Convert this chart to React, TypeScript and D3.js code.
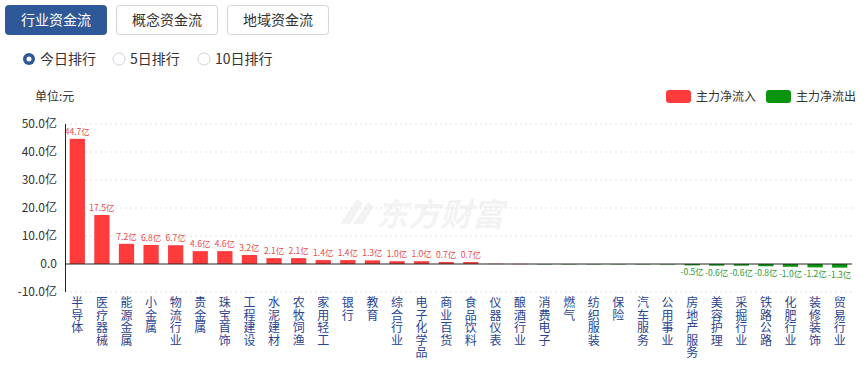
import { scaleBand, scaleLinear } from 'd3'

// industry fund flow, unit: 亿元
const industries = ['半导体', '医疗器械', '能源金属', '小金属', '物流行业', '贵金属', '珠宝首饰', '工程建设', '水泥建材', '农牧饲渔',
  '家用轻工', '银行', '教育', '综合行业', '电子化学品', '商业百货', '食品饮料', '仪器仪表', '酿酒行业', '消费电子',
  '燃气', '纺织服装', '保险', '汽车服务', '公用事业', '房地产服务', '美容护理', '采掘行业', '铁路公路', '化肥行业',
  '装修装饰', '贸易行业']
const netFlow = [44.7, 17.5, 7.2, 6.8, 6.7, 4.6, 4.6, 3.2, 2.1, 2.1,
  1.4, 1.4, 1.3, 1.0, 1.0, 0.7, 0.7, 0.2, 0.1, -0.05,
  -0.1, -0.15, -0.2, -0.3, -0.4, -0.5, -0.6, -0.6, -0.8, -1.0,
  -1.2, -1.3]
const shownLabels = [0, 1, 2, 3, 4, 5, 6, 7, 8, 9, 10, 11, 12, 13, 14, 15, 16, 25, 26, 27, 28, 29, 30, 31]
const yTicks = [50, 40, 30, 20, 10, 0, -10]
const tabs = ['行业资金流', '概念资金流', '地域资金流']
const ranks = ['今日排行', '5日排行', '10日排行']

const RED = '#ff3b3b'
const GREEN = '#0a950f'
const FONT = '"Noto Sans CJK SC", "Microsoft YaHei", sans-serif'

const fmt = (v: number) => (v === 0 ? '0.0' : v.toFixed(1) + '亿')

export default function App() {
  const W = 868, H = 368
  const x = scaleBand().domain(industries).range([65, 852]).paddingInner(0.38).paddingOuter(0.19)
  const y = scaleLinear().domain([-10, 50]).range([292, 124])
  const tabX = [5, 116, 227]
  const rankX = [29, 119, 204]

  return (
    <svg width={W} height={H} style={{ position: 'absolute', left: 0, top: 0, fontFamily: FONT }}>
      <rect width={W} height={H} fill="#fff" />
      {/* tabs */}
      {tabs.map((t, i) => (
        <g key={t} transform={`translate(${tabX[i]},5)`}>
          <rect x={0.5} y={0.5} width={101} height={29} rx={3}
            fill={i === 0 ? '#2e5897' : '#fff'} stroke={i === 0 ? '#2e5897' : '#cfd5de'} />
          <text x={51} y={20} textAnchor="middle" fontSize={14} fill={i === 0 ? '#fff' : '#333'}>{t}</text>
        </g>
      ))}
      {/* radios */}
      {ranks.map((t, i) => (
        <g key={t}>
          {i === 0 ?
            <>
              <circle cx={rankX[i]} cy={59} r={6} fill="#2e5897" />
              <circle cx={rankX[i]} cy={59} r={2.5} fill="#fff" />
            </> :
            <circle cx={rankX[i]} cy={59} r={6} fill="#fff" stroke="#cfd5de" />}
          <text x={rankX[i] + 11} y={64} fontSize={14} fill="#333">{t}</text>
        </g>
      ))}
      <text x={35} y={101} fontSize={12} fill="#333">单位:元</text>
      {/* legend */}
      <rect x={666} y={90} width={25} height={13} rx={3} fill={RED} />
      <text x={696} y={101} fontSize={12} fill="#333">主力净流入</text>
      <rect x={766} y={90} width={25} height={13} rx={3} fill={GREEN} />
      <text x={796} y={101} fontSize={12} fill="#333">主力净流出</text>
      {/* watermark */}
      <g opacity={0.045} fill="#000">
        <path d="M340,224 L357,199 L363,203 L350,224 Z M353,224 L368,202 L374,206 L363,224 Z" />
        <text x={376} y={226} fontSize={32} fontWeight="bold" fontStyle="italic">东方财富</text>
      </g>
      {/* grid */}
      {yTicks.filter(t => t !== 0).map(t => (
        <line key={t} x1={65} x2={852} y1={y(t)} y2={y(t)} stroke="#e3e3e3" strokeDasharray="2,3" />
      ))}
      {yTicks.map(t => (
        <text key={t} x={57} y={y(t) + 4} textAnchor="end" fontSize={12} fill="#333">{fmt(t)}</text>
      ))}
      {/* bars */}
      {netFlow.map((v, i) => {
        const bx = x(industries[i]) as number
        const y0 = y(0), y1 = y(v)
        return (
          <rect key={industries[i]} x={bx} width={x.bandwidth()}
            y={Math.min(y0, y1)} height={Math.max(Math.abs(y1 - y0), 0.8)}
            fill={v >= 0 ? RED : GREEN} opacity={Math.abs(v) < 0.45 ? 0.45 : 1} />
        )
      })}
      {shownLabels.map(i => {
        const v = netFlow[i]
        const cx = (x(industries[i]) as number) + x.bandwidth() / 2
        return (
          <text key={i} x={cx} textAnchor="middle" fontSize={8.5}
            y={v >= 0 ? y(v) - 4 : y(v) + 10}
            fill={v >= 0 ? '#e84a4a' : '#2e9a2e'}>{v.toFixed(1)}亿</text>
        )
      })}
      <line x1={65} x2={852} y1={y(0)} y2={y(0)} stroke="#222" />
      <line x1={65.5} x2={65.5} y1={y(50)} y2={y(-10)} stroke="#222" />
      {/* category labels, one char per line */}
      {industries.map(name => {
        const cx = (x(name) as number) + x.bandwidth() / 2
        return name.split('').map((ch, j) => (
          <text key={name + j} x={cx} y={307 + j * 12.5} textAnchor="middle" fontSize={12} fill="#2a4592">{ch}</text>
        ))
      })}
    </svg>
  )
}
